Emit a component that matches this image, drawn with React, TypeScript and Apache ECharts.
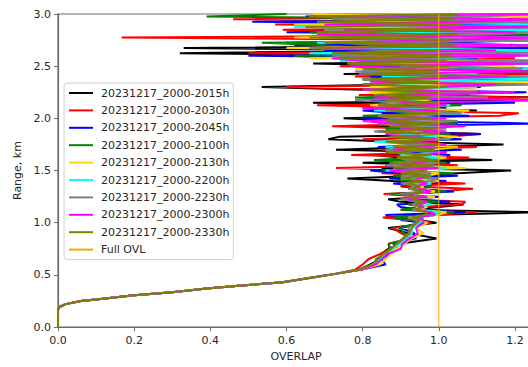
import React, { useEffect, useRef } from "react";
import * as echarts from "echarts";

const seriesNames = [
  "20231217_2000-2015h",
  "20231217_2000-2030h",
  "20231217_2000-2045h",
  "20231217_2000-2100h",
  "20231217_2000-2130h",
  "20231217_2000-2200h",
  "20231217_2000-2230h",
  "20231217_2000-2300h",
  "20231217_2000-2330h",
];
const seriesColors = ["#000000", "#ff0000", "#0000ff", "#008000", "#ffd700", "#00ffff", "#808080", "#ff00ff", "#808000"];
const fullOvlName = "Full OVL";
const fullOvlColor = "#ffa500";

const xTicks = [0, 0.2, 0.4, 0.6, 0.8, 1.0, 1.2];
const yTicks = [0, 0.5, 1.0, 1.5, 2.0, 2.5, 3.0];

// shared lower part of every profile (range km, overlap)
const lowRange = [0, 0.17, 0.195, 0.22, 0.25, 0.265, 0.305, 0.335, 0.37, 0.4, 0.43, 0.47, 0.51];
const lowOverlap = [0, 0, 0.005, 0.02, 0.06, 0.1, 0.2, 0.3, 0.39, 0.49, 0.59, 0.66, 0.728];

// range grid of the noisy part (km)
const rangeKm = [
  0.55, 0.6, 0.65, 0.7, 0.75, 0.8, 0.85, 0.9, 0.95, 1.0,
  1.025, 1.05, 1.075, 1.1, 1.125, 1.15, 1.175, 1.2, 1.225, 1.25,
  1.275, 1.3, 1.325, 1.35, 1.375, 1.4, 1.425, 1.45, 1.475, 1.5,
  1.525, 1.55, 1.575, 1.6, 1.625, 1.65, 1.675, 1.7, 1.725, 1.75,
  1.775, 1.8, 1.825, 1.85, 1.875, 1.9, 1.925, 1.95, 1.975, 2.0,
  2.025, 2.05, 2.075, 2.1, 2.125, 2.15, 2.175, 2.2, 2.225, 2.25,
  2.275, 2.3, 2.325, 2.35, 2.375, 2.4, 2.425, 2.45, 2.475, 2.5,
  2.525, 2.55, 2.575, 2.6, 2.625, 2.65, 2.675, 2.7, 2.725, 2.75,
  2.775, 2.8, 2.825, 2.85, 2.875, 2.9, 2.925, 2.95, 2.975, 3.0,
];

const ovl2015 = [
  0.79, 0.82, 0.845, 0.85, 0.867, 0.9, 0.994, 0.92, 0.867, 0.994,
  0.95, 0.86, 0.97, 1.26, 0.93, 1.0, 1.065, 0.9, 0.867, 0.98,
  0.92, 1.0, 0.95, 0.9, 1.02, 0.88, 0.76, 0.95, 1.05, 1.19,
  0.85, 1.0, 0.8, 1.14, 0.9, 0.83, 1.02, 0.73, 0.95, 1.17,
  0.88, 0.71, 0.74, 1.11, 0.85, 1.0, 0.8, 1.05, 0.9, 0.75,
  1.0, 0.85, 1.1, 0.8, 0.95, 0.67, 1.26, 1.26, 0.85, 1.0,
  0.8, 0.535, 0.9, 1.26, 0.8, 1.1, 0.75, 1.26, 0.85, 1.0,
  0.67, 1.26, 0.8, 1.0, 0.32, 0.95, 0.33, 1.26, 0.8, 1.26,
  0.75, 1.26, 0.7, 1.1, 0.8, 1.26, 0.7, 1.26, 0.85, 1.26,
];
const ovl2030 = [
  0.78, 0.8, 0.815, 0.845, 0.87, 0.868, 0.93, 0.9, 0.88, 0.98,
  0.93, 0.853, 0.98, 1.1, 0.9, 0.95, 1.06, 1.07, 0.9, 0.96,
  0.855, 1.0, 1.09, 0.9, 1.07, 0.92, 0.9, 1.02, 0.85, 0.95,
  0.73, 1.05, 0.88, 0.95, 1.08, 0.77, 0.98, 0.85, 1.1, 0.9,
  1.0, 0.8, 1.02, 1.11, 0.85, 0.95, 0.72, 1.0, 0.88, 0.82,
  1.16, 1.21, 0.85, 1.0, 0.68, 1.1, 0.85, 1.24, 0.79, 1.15,
  0.9, 0.6, 1.05, 0.85, 1.2, 0.78, 1.26, 0.8, 1.26, 0.74,
  1.26, 0.85, 1.2, 0.72, 0.5, 1.26, 0.65, 1.26, 0.6, 1.0,
  0.167, 1.26, 0.8, 0.59, 1.26, 0.57, 1.26, 0.46, 1.26, 0.7,
];
const ovl2045 = [
  0.795, 0.86, 0.85, 0.87, 0.895, 0.88, 0.94, 0.935, 0.9, 0.96,
  0.9, 0.96, 0.86, 1.07, 0.95, 0.9, 0.89, 1.03, 0.92, 1.0,
  0.9, 1.04, 0.93, 0.97, 0.88, 1.02, 0.87, 1.05, 0.9, 0.82,
  1.0, 0.86, 1.03, 0.85, 0.97, 1.03, 0.88, 1.06, 0.84, 0.98,
  0.85, 1.06, 0.9, 1.11, 0.84, 0.98, 0.88, 1.26, 0.85, 0.8,
  1.08, 0.9, 0.8, 1.02, 0.86, 1.2, 0.82, 0.95, 0.88, 1.23,
  0.85, 1.11, 0.8, 1.0, 1.26, 0.82, 1.0, 0.8, 1.26, 0.82,
  1.26, 0.78, 1.1, 0.5, 1.26, 0.7, 1.26, 0.62, 1.0, 1.26,
  0.7, 1.26, 0.6, 1.2, 0.75, 1.26, 0.51, 1.26, 0.65, 1.26,
];
const ovl2100 = [
  0.79, 0.83, 0.835, 0.855, 0.87, 0.87, 0.92, 0.91, 0.895, 0.95,
  0.93, 0.88, 0.97, 1.04, 0.9, 0.96, 0.92, 1.0, 0.9, 0.98,
  0.87, 1.02, 0.92, 0.98, 0.94, 0.9, 1.0, 0.88, 1.04, 0.85,
  0.98, 0.88, 1.02, 0.83, 0.97, 0.9, 1.02, 0.86, 0.95, 1.0,
  0.84, 0.98, 0.88, 1.03, 0.9, 0.86, 1.0, 1.05, 0.82, 0.96,
  0.8, 1.05, 0.9, 0.82, 1.06, 0.85, 0.95, 0.78, 1.08, 0.88,
  0.8, 1.0, 1.2, 0.85, 0.8, 1.1, 0.9, 1.26, 0.8, 1.05,
  0.85, 1.26, 0.76, 0.62, 1.2, 1.26, 0.8, 0.7, 0.535, 1.26,
  0.8, 1.26, 0.66, 1.1, 1.26, 0.7, 1.0, 1.26, 0.39, 0.6,
];
const ovl2130 = [
  0.795, 0.845, 0.86, 0.875, 0.89, 0.91, 0.93, 0.96, 0.94, 0.97,
  0.95, 0.92, 1.0, 1.02, 0.94, 0.97, 0.95, 0.96, 0.92, 0.99,
  0.93, 0.99, 0.95, 0.96, 0.92, 1.0, 0.9, 0.97, 1.0, 0.88,
  1.07, 0.92, 0.9, 0.97, 1.02, 0.92, 0.88, 0.98, 1.05, 0.9,
  0.87, 1.0, 1.05, 0.9, 0.88, 1.0, 0.92, 0.86, 1.04, 0.95,
  0.85, 1.04, 1.08, 0.9, 0.82, 1.0, 0.95, 0.86, 1.0, 0.82,
  1.1, 0.82, 0.9, 1.25, 0.82, 1.26, 0.88, 1.05, 0.78, 1.2,
  0.8, 1.26, 0.66, 1.1, 0.85, 1.26, 0.6, 1.2, 0.7, 1.26,
  0.62, 1.0, 1.26, 0.7, 1.2, 0.62, 1.26, 0.8, 1.26, 0.67,
];
const ovl2200 = [
  0.79, 0.83, 0.845, 0.86, 0.88, 0.9, 0.915, 0.93, 0.93, 0.95,
  0.96, 0.93, 0.99, 1.0, 0.95, 0.94, 0.98, 0.95, 0.91, 0.97,
  0.93, 0.97, 0.94, 0.93, 0.98, 0.95, 0.92, 0.98, 0.96, 0.86,
  1.02, 0.9, 0.88, 0.96, 1.0, 0.9, 1.01, 0.9, 0.86, 1.01,
  0.83, 0.95, 1.0, 0.9, 0.96, 0.9, 1.02, 0.88, 0.84, 1.02,
  0.9, 1.06, 0.83, 0.95, 1.03, 0.87, 0.92, 1.03, 0.86, 1.0,
  0.82, 1.1, 0.85, 0.95, 1.26, 0.85, 1.1, 0.8, 1.26, 0.9,
  1.26, 0.74, 1.0, 1.2, 0.66, 1.26, 0.8, 1.26, 0.68, 1.1,
  1.26, 0.68, 1.0, 1.26, 0.62, 1.26, 0.75, 1.26, 0.7, 1.26,
];
const ovl2230 = [
  0.79, 0.83, 0.84, 0.855, 0.875, 0.89, 0.91, 0.925, 0.92, 0.945,
  0.94, 0.92, 0.99, 0.98, 0.93, 0.95, 0.93, 0.95, 0.9, 0.96,
  0.9, 0.96, 0.92, 0.95, 0.9, 0.98, 1.0, 0.9, 0.98, 0.9,
  0.96, 0.86, 1.0, 0.92, 0.89, 0.97, 0.9, 0.86, 0.99, 0.92,
  0.87, 1.03, 0.9, 0.95, 0.83, 1.02, 0.9, 0.84, 1.05, 0.88,
  0.84, 1.06, 0.95, 0.84, 1.02, 0.9, 0.78, 1.13, 0.86, 1.1,
  0.8, 0.95, 1.26, 0.85, 0.8, 1.26, 0.9, 0.78, 1.22, 1.0,
  0.76, 1.26, 0.85, 0.72, 1.26, 0.9, 0.66, 1.26, 0.8, 1.26,
  0.72, 1.1, 1.26, 0.7, 1.26, 0.8, 1.26, 0.72, 1.1, 1.26,
];
const ovl2300 = [
  0.795, 0.835, 0.85, 0.865, 0.9, 0.905, 0.925, 0.945, 0.94, 0.96,
  0.96, 0.935, 0.99, 0.98, 0.94, 0.96, 0.95, 0.97, 0.92, 0.97,
  0.93, 0.98, 0.95, 0.94, 0.97, 0.93, 0.95, 0.97, 0.92, 0.87,
  1.0, 0.9, 0.95, 0.98, 0.92, 0.96, 1.02, 0.88, 0.93, 1.02,
  0.89, 0.99, 0.92, 0.86, 1.02, 0.9, 1.07, 0.88, 0.8, 1.02,
  0.86, 0.95, 1.0, 0.8, 1.02, 0.9, 1.26, 0.83, 0.95, 1.2,
  0.8, 1.0, 1.15, 0.82, 0.9, 1.18, 0.79, 1.26, 0.85, 0.77,
  1.26, 0.8, 0.72, 1.26, 0.75, 1.15, 0.7, 1.26, 0.72, 1.0,
  1.26, 0.68, 1.2, 0.75, 1.26, 0.7, 1.05, 1.26, 0.7, 1.26,
];
const ovl2330 = [
  0.79, 0.825, 0.84, 0.855, 0.875, 0.89, 0.905, 0.92, 0.93, 0.94,
  0.95, 0.93, 0.965, 0.97, 0.94, 0.955, 0.94, 0.96, 0.93, 0.95,
  0.92, 0.96, 0.93, 0.95, 0.92, 0.96, 0.9, 0.98, 0.9, 0.97,
  0.88, 0.99, 0.87, 1.0, 0.89, 0.98, 0.86, 0.99, 0.88, 1.0,
  0.86, 0.98, 0.87, 1.0, 0.85, 0.99, 0.87, 1.0, 0.86, 0.98,
  0.85, 1.0, 0.86, 0.99, 0.84, 1.0, 0.86, 0.98, 0.83, 1.0,
  0.82, 1.02, 0.8, 1.0, 0.82, 1.02, 0.8, 1.0, 0.8, 1.03,
  0.76, 1.02, 0.74, 1.04, 0.72, 1.0, 0.68, 1.05, 0.7, 1.03,
  0.66, 1.05, 0.68, 1.04, 0.65, 1.06, 0.68, 1.04, 0.66, 1.05,
];
const overlapSeries = [ovl2015, ovl2030, ovl2045, ovl2100, ovl2130, ovl2200, ovl2230, ovl2300, ovl2330];

const fullOvlX = [1.0, 1.0];
const fullOvlY = [0, 3.0];

const FONT = "DejaVu Sans";
const TEXT = "#262626";
const SPINE = "#6b6b6b";

if (typeof document !== "undefined") {
  document.body.style.margin = "0";
}

export default function App() {
  const ref = useRef<HTMLDivElement>(null);
  useEffect(() => {
    if (!ref.current) return;
    const chart = echarts.init(ref.current, undefined, { renderer: "svg" });
    const series: any[] = overlapSeries.map((vals, si) => ({
      name: seriesNames[si],
      type: "line",
      data: lowOverlap
        .map((x, i) => [x, lowRange[i]])
        .concat(vals.map((x, i) => [x, rangeKm[i]])),
      showSymbol: false,
      symbol: "none",
      lineStyle: { color: seriesColors[si], width: 2 },
      itemStyle: { color: seriesColors[si] },
      z: 2 + si,
      clip: true,
    }));
    series.push({
      name: fullOvlName,
      type: "line",
      data: fullOvlX.map((x, i) => [x, fullOvlY[i]]),
      showSymbol: false,
      symbol: "none",
      lineStyle: { color: fullOvlColor, width: 1 },
      itemStyle: { color: fullOvlColor },
      z: 20,
    });
    chart.setOption({
      animation: false,
      backgroundColor: "#ffffff",
      grid: {
        left: 58,
        top: 14,
        width: 476,
        height: 316,
        show: true,
        borderColor: SPINE,
        borderWidth: 1.2,
        backgroundColor: "transparent",
      },
      legend: {
        orient: "vertical",
        left: 64,
        top: 83,
        padding: [3, 4, 3, 4],
        itemWidth: 24,
        itemHeight: 14,
        itemGap: 3.4,
        backgroundColor: "rgba(255,255,255,0.85)",
        borderColor: "#d0d0d0",
        borderWidth: 1,
        borderRadius: 3,
        itemStyle: { opacity: 0 },
        textStyle: { fontFamily: FONT, fontSize: 11, color: TEXT, lineHeight: 14, padding: [0, 0, 0, 3] },
        data: seriesNames.concat([fullOvlName]),
      },
      xAxis: {
        type: "value",
        min: 0,
        max: 1.25,
        interval: 0.2,
        name: "OVERLAP",
        nameLocation: "middle",
        nameGap: 22,
        nameTextStyle: { fontFamily: FONT, fontSize: 11, color: TEXT },
        axisLine: { show: true, lineStyle: { color: SPINE, width: 1.2 } },
        axisTick: { show: true, inside: false, length: 4, lineStyle: { color: SPINE } },
        axisLabel: {
          margin: 8,
          fontFamily: FONT,
          fontSize: 11,
          color: TEXT,
          formatter: (v: number) => (xTicks.some((t) => Math.abs(t - v) < 1e-9) ? v.toFixed(1) : ""),
        },
        splitLine: { show: false },
      },
      yAxis: {
        type: "value",
        min: 0,
        max: 3,
        interval: 0.5,
        name: "Range, km",
        nameLocation: "middle",
        nameGap: 25,
        nameTextStyle: { fontFamily: FONT, fontSize: 11, color: TEXT },
        axisLine: { show: true, lineStyle: { color: SPINE, width: 1.2 } },
        axisTick: { show: true, inside: false, length: 4, lineStyle: { color: SPINE } },
        axisLabel: {
          margin: 7,
          fontFamily: FONT,
          fontSize: 11,
          color: TEXT,
          formatter: (v: number) => (yTicks.some((t) => Math.abs(t - v) < 1e-9) ? v.toFixed(1) : ""),
        },
        splitLine: { show: false },
      },
      series,
    });
    return () => chart.dispose();
  }, []);
  return (
    <div style={{ width: 528, height: 367, overflow: "hidden", position: "relative", background: "#fff" }}>
      <div ref={ref} style={{ width: 548, height: 367 }} />
    </div>
  );
}
